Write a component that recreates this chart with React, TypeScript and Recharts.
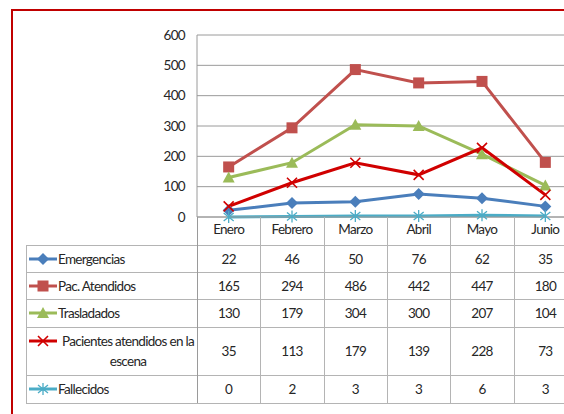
import React from 'react';
import { LineChart, Line, XAxis, YAxis, CartesianGrid } from 'recharts';

// Atenciones prehospitalarias, enero - junio

const months = ['Enero', 'Febrero', 'Marzo', 'Abril', 'Mayo', 'Junio'];
const emergencias = [22, 46, 50, 76, 62, 35];
const pacAtendidos = [165, 294, 486, 442, 447, 180];
const trasladados = [130, 179, 304, 300, 207, 104];
const pacientesEscena = [35, 113, 179, 139, 228, 73];
const fallecidos = [0, 2, 3, 3, 6, 3];
const yTicks = [0, 100, 200, 300, 400, 500, 600];

type MarkerType = 'diamond' | 'square' | 'triangle' | 'x' | 'star';

const series: { key: string; name: string; color: string; marker: MarkerType; values: number[] }[] = [
  { key: 'emergencias', name: 'Emergencias', color: '#4A7EBB', marker: 'diamond', values: emergencias },
  { key: 'pacAtendidos', name: 'Pac. Atendidos', color: '#C0504D', marker: 'square', values: pacAtendidos },
  { key: 'trasladados', name: 'Trasladados', color: '#9BBB59', marker: 'triangle', values: trasladados },
  { key: 'pacientesEscena', name: 'Pacientes atendidos en la escena', color: '#D00000', marker: 'x', values: pacientesEscena },
  { key: 'fallecidos', name: 'Fallecidos', color: '#4BACC6', marker: 'star', values: fallecidos },
];

const data = months.map((m, i) => {
  const row: Record<string, string | number> = { month: m };
  series.forEach((s) => {
    row[s.key] = s.values[i];
  });
  return row;
});

const FONT = 'Lato, "DejaVu Sans Condensed", sans-serif';
const FONT_SIZE = 13.5;
const SPACING = -0.7;
const TEXT = '#262626';
const GRID = '#9a9a9a';
const TABLE_LINE = '#b4b4b4';

// plot geometry
const PLOT_LEFT = 197;
const PLOT_TOP = 35;
const PLOT_BOTTOM = 217;
const PLOT_WIDTH = 380;
const BAND = PLOT_WIDTH / months.length;
const CHART_W = 600;
const CHART_H = 414;

// data table geometry
const TABLE_LEFT = 26;
const ROW_TOPS = [245, 272, 299, 327, 375];
const TABLE_BOTTOM = 403;

function Marker({ type, x, y, color }: { type: MarkerType; x: number; y: number; color: string }) {
  switch (type) {
    case 'diamond':
      return <polygon points={`${x},${y - 6} ${x + 6},${y} ${x},${y + 6} ${x - 6},${y}`} fill={color} />;
    case 'square':
      return <rect x={x - 5.5} y={y - 5.5} width={11} height={11} fill={color} />;
    case 'triangle':
      return <polygon points={`${x},${y - 6} ${x + 6},${y + 5} ${x - 6},${y + 5}`} fill={color} />;
    case 'x':
      return (
        <path
          d={`M${x - 5},${y - 5}L${x + 5},${y + 5}M${x + 5},${y - 5}L${x - 5},${y + 5}`}
          stroke={color}
          strokeWidth={1.6}
          fill="none"
        />
      );
    default:
      return (
        <path
          d={`M${x - 5},${y - 4}L${x + 5},${y + 4}M${x + 5},${y - 4}L${x - 5},${y + 4}M${x},${y - 6}L${x},${y + 6}`}
          stroke={color}
          strokeWidth={1.3}
          fill="none"
        />
      );
  }
}

function LegendKey({ color, marker }: { color: string; marker: MarkerType }) {
  return (
    <svg width={28} height={14} style={{ flex: 'none', display: 'block' }}>
      <line x1={0} y1={7} x2={28} y2={7} stroke={color} strokeWidth={3} />
      <Marker type={marker} x={14} y={7} color={color} />
    </svg>
  );
}

function DataTable() {
  const rightEdge = PLOT_LEFT + PLOT_WIDTH;
  const lines: React.ReactNode[] = [];
  [...ROW_TOPS, TABLE_BOTTOM].forEach((y, i) => {
    lines.push(
      <div key={'h' + i} style={{ position: 'absolute', left: TABLE_LEFT, top: y, width: rightEdge - TABLE_LEFT, height: 1, background: TABLE_LINE }} />
    );
  });
  lines.push(
    <div key="vl" style={{ position: 'absolute', left: TABLE_LEFT, top: ROW_TOPS[0], width: 1, height: TABLE_BOTTOM - ROW_TOPS[0], background: TABLE_LINE }} />
  );
  for (let k = 0; k <= months.length; k++) {
    lines.push(
      <div
        key={'v' + k}
        style={{ position: 'absolute', left: PLOT_LEFT + k * BAND, top: PLOT_BOTTOM, width: 1, height: TABLE_BOTTOM - PLOT_BOTTOM, background: k === 0 ? GRID : TABLE_LINE }}
      />
    );
  }

  const rows = series.map((s, r) => {
    const top = ROW_TOPS[r];
    const bottom = r + 1 < ROW_TOPS.length ? ROW_TOPS[r + 1] : TABLE_BOTTOM;
    const h = bottom - top;
    const twoLine = h > 35;
    return (
      <React.Fragment key={s.key}>
        <div
          style={{
            position: 'absolute',
            left: TABLE_LEFT + 3,
            top,
            width: PLOT_LEFT - TABLE_LEFT - 3,
            height: h,
            display: 'flex',
            alignItems: twoLine ? 'flex-start' : 'center',
            paddingTop: twoLine ? 4 : 0,
            boxSizing: 'border-box',
          }}
        >
          <div style={{ marginTop: twoLine ? 3 : 0 }}>
            <LegendKey color={s.color} marker={s.marker} />
          </div>
          <span style={{ display: 'inline-block', maxWidth: 136, textAlign: 'center', lineHeight: '20px', marginLeft: twoLine ? 3 : 1 }}>
            {s.name}
          </span>
        </div>
        {s.values.map((v, i) => (
          <div
            key={i}
            style={{
              position: 'absolute',
              left: PLOT_LEFT + i * BAND,
              top,
              width: BAND,
              height: h,
              display: 'flex',
              alignItems: 'center',
              justifyContent: 'center',
            }}
          >
            {v}
          </div>
        ))}
      </React.Fragment>
    );
  });

  return (
    <div style={{ position: 'absolute', left: 0, top: 0, fontFamily: FONT, fontSize: FONT_SIZE, letterSpacing: SPACING, color: TEXT }}>
      {lines}
      {rows}
    </div>
  );
}

export default function App() {
  const tickStyle = { fill: TEXT, fontSize: FONT_SIZE, fontFamily: FONT, letterSpacing: SPACING };
  return (
    <div
      style={{
        position: 'absolute',
        left: 0,
        top: 0,
        width: 564,
        height: 414,
        overflow: 'hidden',
        background: '#fff',
        fontFamily: FONT,
      }}
    >
      <div style={{ position: 'absolute', left: 11, top: 9, width: 600, height: 420, borderLeft: '2px solid #C00000', borderTop: '2px solid #C00000' }} />
      <div style={{ position: 'absolute', left: 0, top: 0 }}>
        <LineChart
          width={CHART_W}
          height={CHART_H}
          data={data}
          margin={{ top: PLOT_TOP, right: CHART_W - PLOT_LEFT - PLOT_WIDTH, left: PLOT_LEFT - 60, bottom: CHART_H - PLOT_BOTTOM - 30 }}
        >
          <CartesianGrid vertical={false} stroke={GRID} strokeWidth={1} />
          <XAxis
            dataKey="month"
            height={30}
            padding={{ left: BAND / 2, right: BAND / 2 }}
            axisLine={{ stroke: GRID }}
            tickLine={false}
            tickSize={0}
            tickMargin={7}
            tick={tickStyle}
            interval={0}
          />
          <YAxis
            width={60}
            domain={[0, 600]}
            ticks={yTicks}
            axisLine={{ stroke: GRID }}
            tickLine={false}
            tickSize={6}
            tickMargin={6}
            tick={tickStyle}
          />
          {series.map((s) => (
            <Line
              key={s.key}
              dataKey={s.key}
              name={s.name}
              stroke={s.color}
              strokeWidth={3}
              isAnimationActive={false}
              dot={(p: any) => <Marker key={`${s.key}-${p.index}`} type={s.marker} x={p.cx} y={p.cy} color={s.color} />}
              activeDot={false}
            />
          ))}
        </LineChart>
      </div>
      <DataTable />
    </div>
  );
}
